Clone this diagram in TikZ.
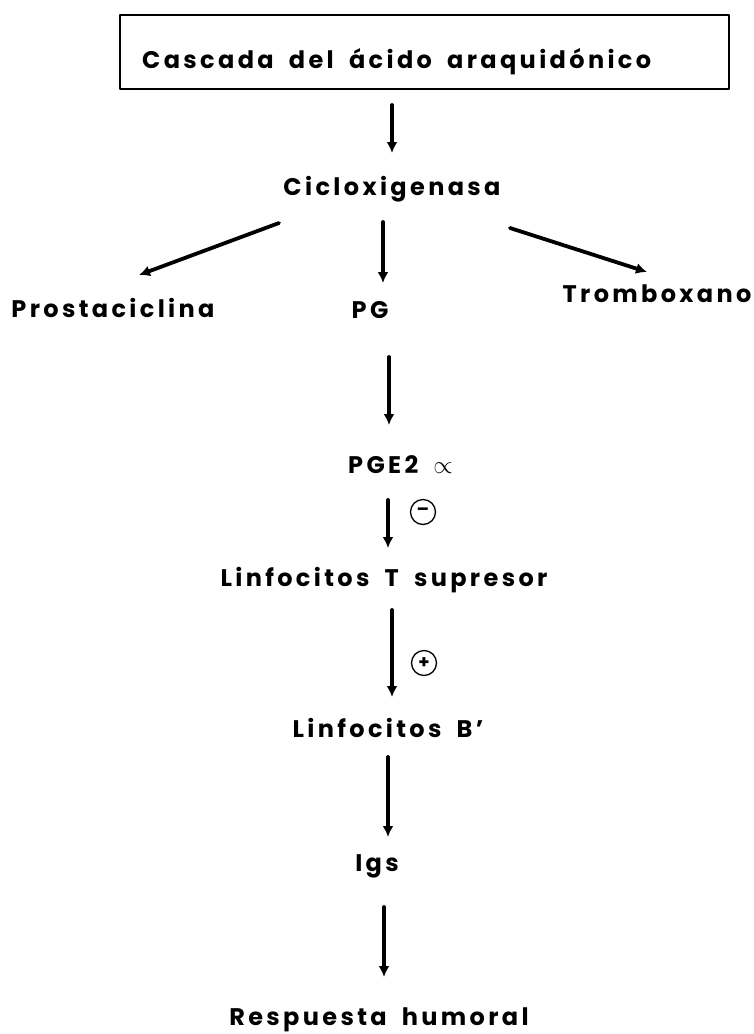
\documentclass[tikz,border=0pt]{standalone}
\usepackage{fontspec}
\setmainfont{Poppins}[LetterSpace=14, WordSpace=1.8]
\usetikzlibrary{arrows.meta,positioning,calc}

\begin{document}
\begin{tikzpicture}[x=1pt, y=-1pt, >={Latex[length=11pt,width=11pt]}, line cap=round, line join=round,
  rotulo/.style={font=\fontsize{24}{28}\selectfont\bfseries, inner sep=0pt, anchor=base},
  flecha/.style={->, line width=3.8pt},
  caja/.style={line width=1.3pt},
  signo/.style={draw, circle, line width=1.3pt, minimum size=25pt, inner sep=0pt, font=\fontsize{18}{18}\selectfont\bfseries}]
\useasboundingbox (0,0) rectangle (753,1034);
% Cuadro de arriba
\node[rotulo, anchor=base west] (cascada) at (142,68) {Cascada del ácido araquidónico};
\draw[caja] ($(cascada.base west)+(-22,-53)$) rectangle ($(cascada.base west)+(587,21)$);
% Las etiquetas
\node[rotulo] (ciclo) at (392,195) {Cicloxigenasa};
\node[rotulo] (prosta) at (113,317) {Prostaciclina};
\node[rotulo] (pg) at (370,318) {PG};
\node[rotulo] (trombo) at (657,302) {Tromboxano};
\node[rotulo, anchor=base west] (pge) at (348,473) {PGE2 {\fontsize{30}{30}\selectfont\mdseries$\propto$}};
\node[rotulo] (linT) at (384,586) {Linfocitos T supresor};
\node[rotulo] (linB) at (388,737) {Linfocitos B'};
\node[rotulo] (igs) at (377,871) {Igs};
\node[rotulo] (resp) at (379,1025) {Respuesta humoral};
% Signos
\node[signo] (menos) at (423,512) {–};
\node[signo] (mas) at (424,663) {+};
% Flechas
\draw[flecha] ($(ciclo.base)+(0,-90)$) -- ($(ciclo.base)+(0,-42)$);
\draw[flecha] ($(ciclo.base)+(-113,28)$) -- ($(prosta.base)+(26,-42)$);
\draw[flecha] ($(ciclo.base)+(-9,27)$) -- ($(pg.base)+(13,-35)$);
\draw[flecha] ($(ciclo.base)+(118,33)$) -- ($(trombo.base)+(-10,-30)$);
\draw[flecha] ($(pg.base)+(19,39)$) -- ($(pge.base west)+(41,-48)$);
\draw[flecha] ($(pge.base west)+(40,27)$) -- ($(linT.base)+(4,-38)$);
\draw[flecha] ($(linT.base)+(8,24)$) -- ($(linB.base)+(4,-40)$);
\draw[flecha] ($(linB.base)+(0,20)$) -- ($(igs.base)+(11,-34)$);
\draw[flecha] ($(igs.base)+(7,36)$) -- ($(resp.base)+(5,-48)$);
\end{tikzpicture}
\end{document}
